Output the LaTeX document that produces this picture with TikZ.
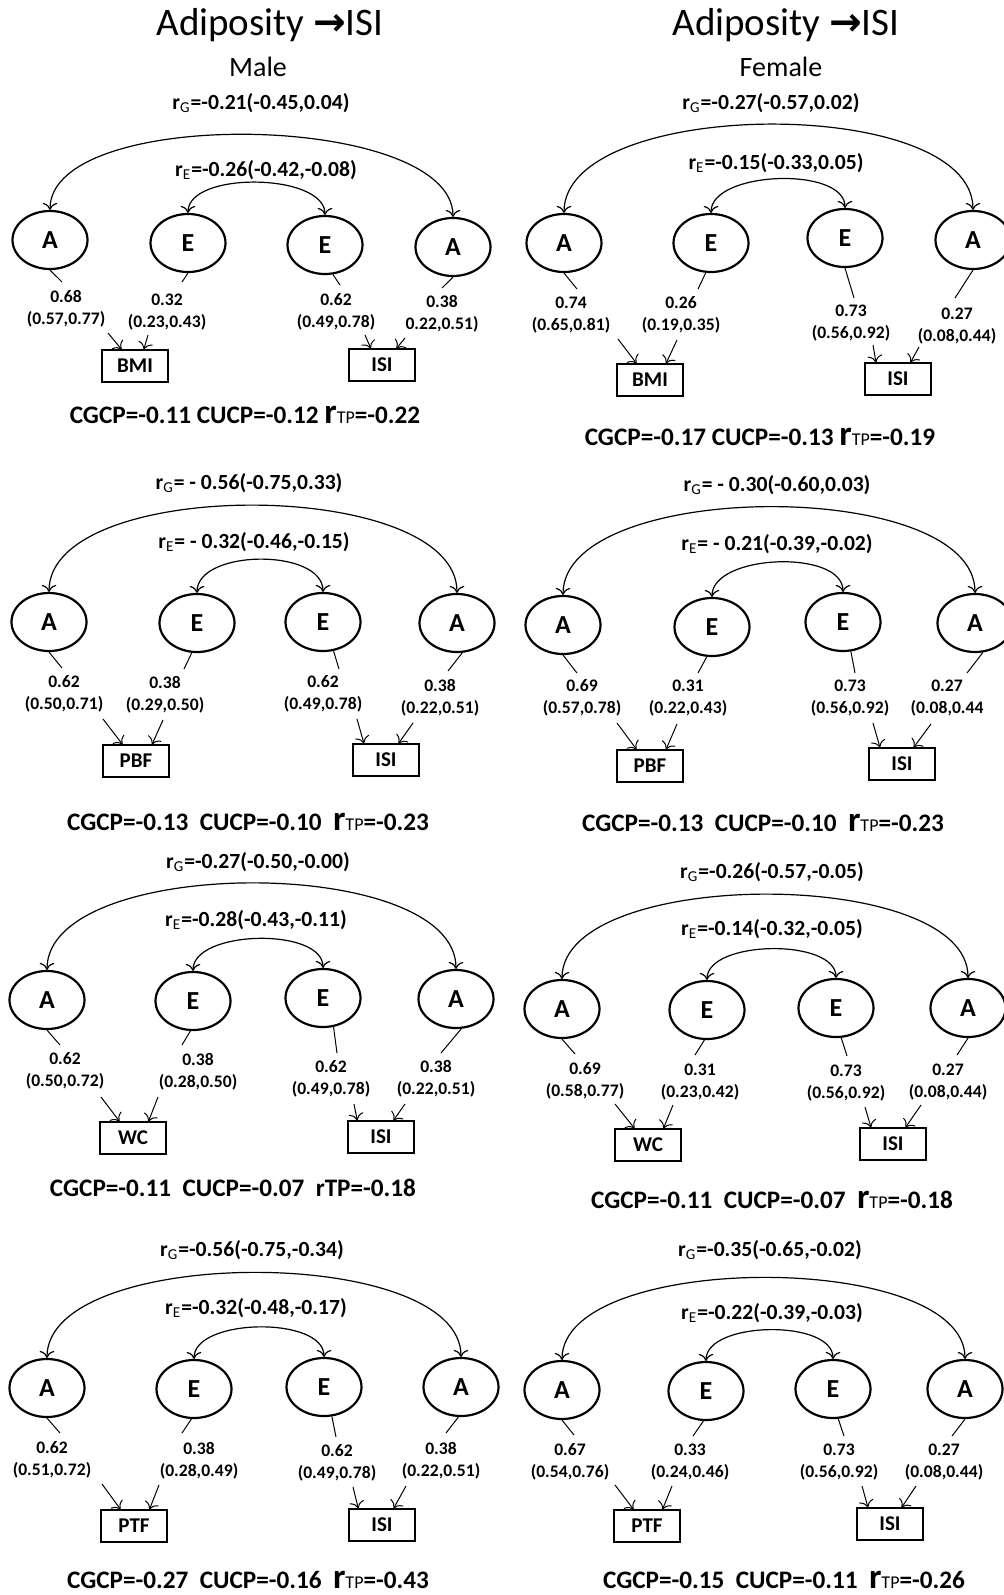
\documentclass[tikz,border=0pt]{standalone}
\usepackage{fontspec}
\setmainfont{Carlito}
\newfontfamily\arrowfont{DejaVu Sans}
\usetikzlibrary{shapes.geometric,arrows.meta}
\newcommand{\rsub}[1]{r\textsubscript{\mdseries #1}}
\newcommand{\rtp}{{\fontsize{17.5}{17.5}\selectfont r}{\fontsize{9}{9}\selectfont\mdseries TP}}
\begin{document}
\begin{tikzpicture}[x=0.5pt,y=-0.5pt,
  lat/.style={draw,ellipse,line width=1.1pt,minimum width=37.5pt,minimum height=29pt,inner sep=0pt,font=\fontsize{13}{13}\selectfont\bfseries},
  obs/.style={draw,line width=0.6pt,minimum width=33pt,minimum height=16pt,inner sep=0pt,font=\fontsize{10.5}{10.5}\selectfont\bfseries},
  cor/.style={inner sep=0pt,font=\fontsize{10.8}{10.8}\selectfont\bfseries},
  load/.style={inner sep=0pt,align=center,font=\fontsize{8.8}{11}\selectfont\bfseries},
  sum/.style={inner sep=0pt,font=\fontsize{12.6}{12.6}\selectfont\bfseries},
  dbl/.style={{To[length=3.5pt]}-{To[length=3.5pt]},line width=0.6pt},
  arr/.style={-{To[length=3.5pt]},line width=0.5pt},
  ld/.style={line width=0.5pt}]
  \useasboundingbox (0,0) rectangle (1004,1595);
  % headings
  \node[font=\fontsize{19.5}{19.5}\selectfont] (tm) at (270,25) {Adiposity {\arrowfont\bfseries →}ISI};
  \node[font=\fontsize{14}{14}\selectfont] (sm) at (258,67) {Male};
  \node[font=\fontsize{19.5}{19.5}\selectfont] (tf) at (786,25) {Adiposity {\arrowfont\bfseries →}ISI};
  \node[font=\fontsize{14}{14}\selectfont] (sf) at (781,67) {Female};

  % male, BMI
  \begin{scope}[name prefix=mb-]
    \node[cor] (rg) at (261,103) {\rsub{G}=-0.21(-0.45,0.04)};
    \node[cor] (re) at (266,170) {\rsub{E}=-0.26(-0.42,-0.08)};
    \node[lat] (a1) at (50,240) {A};
    \node[lat] (e1) at (188,243) {E};
    \node[lat] (e2) at (325,245) {E};
    \node[lat] (a2) at (453,247) {A};
    \draw[dbl] (a1.north) .. controls +(0,-105) and +(0,-105) .. (a2.north);
    \draw[dbl] (e1.north) .. controls +(0,-42) and +(0,-42) .. (e2.north);
    \coordinate (t1) at (62,282); \coordinate (t2) at (182,282);
    \coordinate (t3) at (340,285); \coordinate (t4) at (442,288);
    \draw[ld] (a1.south) -- (t1);
    \draw[ld] (e1.south) -- (t2);
    \draw[ld] (e2.-75) -- (t3);
    \draw[ld] (a2.south) -- (t4);
    \node[load] (l1) at (66,309) {0.68\\(0.57,0.77)};
    \node[load] (l2) at (167,312) {0.32\\(0.23,0.43)};
    \node[load] (l3) at (336,312) {0.62\\(0.49,0.78)};
    \node[load] (l4) at (442,314) {0.38\\0.22,0.51)};
    \node[obs] (bmi) at (135,366) {BMI};
    \node[obs] (isi) at (382,365) {ISI};
    \coordinate (s1) at (108,333); \coordinate (s2) at (148,335);
    \coordinate (s3) at (365,335); \coordinate (s4) at (405,338);
    \draw[arr] (s1) -- (bmi.129);
    \draw[arr] (s2) -- (bmi.62);
    \draw[arr] (s3) -- (isi.124);
    \draw[arr] (s4) -- (isi.49);
    \node[sum] (cp) at (245,415) {CGCP=-0.11 CUCP=-0.12 \rtp=-0.22};
  \end{scope}

  % female, BMI
  \begin{scope}[name prefix=fb-]
    \node[cor] (rg) at (771,103) {\rsub{G}=-0.27(-0.57,0.02)};
    \node[cor] (re) at (776,163) {\rsub{E}=-0.15(-0.33,0.05)};
    \node[lat] (a1) at (564,243) {A};
    \node[lat] (e1) at (711,243) {E};
    \node[lat] (e2) at (845,238) {E};
    \node[lat] (a2) at (973,240) {A};
    \draw[dbl] (a1.north) .. controls +(0,-116) and +(0,-116) .. (a2.north);
    \draw[dbl] (e1.north) .. controls +(0,-42) and +(0,-42) .. (e2.north);
    \coordinate (t1) at (577,289); \coordinate (t2) at (698,289);
    \coordinate (t3) at (854,298); \coordinate (t4) at (955,298);
    \draw[ld] (a1.south) -- (t1);
    \draw[ld] (e1.-100) -- (t2);
    \draw[ld] (e2.south) -- (t3);
    \draw[ld] (a2.south) -- (t4);
    \node[load] (l1) at (571,315) {0.74\\(0.65,0.81)};
    \node[load] (l2) at (681,315) {0.26\\(0.19,0.35)};
    \node[load] (l3) at (851,323) {0.73\\(0.56,0.92)};
    \node[load] (l4) at (957,326) {0.27\\(0.08,0.44)};
    \node[obs] (bmi) at (650,380) {BMI};
    \node[obs] (isi) at (898,379) {ISI};
    \coordinate (s1) at (618,339); \coordinate (s2) at (677,340);
    \coordinate (s3) at (873,345); \coordinate (s4) at (919,347);
    \draw[arr] (s1) -- (bmi.129);
    \draw[arr] (s2) -- (bmi.46);
    \draw[arr] (s3) -- (isi.143);
    \draw[arr] (s4) -- (isi.53);
    \node[sum] (cp) at (760,437) {CGCP=-0.17 CUCP=-0.13 \rtp=-0.19};
  \end{scope}

  % male, PBF
  \begin{scope}[name prefix=mp-]
    \node[cor] (rg) at (249,483) {\rsub{G}= - 0.56(-0.75,0.33)};
    \node[cor] (re) at (254,542) {\rsub{E}= - 0.32(-0.46,-0.15)};
    \node[lat] (a1) at (49,622) {A};
    \node[lat] (e1) at (197,623) {E};
    \node[lat] (e2) at (323,622) {E};
    \node[lat] (a2) at (457,623) {A};
    \draw[dbl] (a1.north) .. controls +(0,-116) and +(0,-116) .. (a2.north);
    \draw[dbl] (e1.north) .. controls +(0,-44) and +(0,-44) .. (e2.north);
    \coordinate (t1) at (62,668); \coordinate (t2) at (184,669);
    \coordinate (t3) at (339,669); \coordinate (t4) at (448,671);
    \draw[ld] (a1.south) -- (t1);
    \draw[ld] (e1.-100) -- (t2);
    \draw[ld] (e2.-70) -- (t3);
    \draw[ld] (a2.-80) -- (t4);
    \node[load] (l1) at (64,694) {0.62\\(0.50,0.71)};
    \node[load] (l2) at (165,695) {0.38\\(0.29,0.50)};
    \node[load] (l3) at (323,694) {0.62\\(0.49,0.78)};
    \node[load] (l4) at (440,698) {0.38\\(0.22,0.51)};
    \node[obs] (pbf) at (136,761) {PBF};
    \node[obs] (isi) at (386,760) {ISI};
    \coordinate (s1) at (103,719); \coordinate (s2) at (163,720);
    \coordinate (s3) at (357,719); \coordinate (s4) at (413,723);
    \draw[arr] (s1) -- (pbf.129);
    \draw[arr] (s2) -- (pbf.46);
    \draw[arr] (s3) -- (isi.143);
    \draw[arr] (s4) -- (isi.53);
    \node[sum] (cp) at (248,822) {CGCP=-0.13\ \ CUCP=-0.10\ \ \rtp=-0.23};
  \end{scope}

  % female, PBF
  \begin{scope}[name prefix=fp-]
    \node[cor] (rg) at (777,485) {\rsub{G}= - 0.30(-0.60,0.03)};
    \node[cor] (re) at (777,544) {\rsub{E}= - 0.21(-0.39,-0.02)};
    \node[lat] (a1) at (563,625) {A};
    \node[lat] (e1) at (712,627) {E};
    \node[lat] (e2) at (843,622) {E};
    \node[lat] (a2) at (975,623) {A};
    \draw[dbl] (a1.north) .. controls +(0,-116) and +(0,-116) .. (a2.north);
    \draw[dbl] (e1.north) .. controls +(0,-43) and +(0,-43) .. (e2.north);
    \coordinate (t1) at (577,673); \coordinate (t2) at (698,673);
    \coordinate (t3) at (855,673); \coordinate (t4) at (967,673);
    \draw[ld] (a1.south) -- (t1);
    \draw[ld] (e1.-100) -- (t2);
    \draw[ld] (e2.-75) -- (t3);
    \draw[ld] (a2.-75) -- (t4);
    \node[load] (l1) at (582,698) {0.69\\(0.57,0.78)};
    \node[load] (l2) at (688,698) {0.31\\(0.22,0.43)};
    \node[load] (l3) at (850,698) {0.73\\(0.56,0.92)};
    \node[load] (l4) at (947,698) {0.27\\(0.08,0.44};
    \node[obs] (pbf) at (650,766) {PBF};
    \node[obs] (isi) at (902,764) {ISI};
    \coordinate (s1) at (617,723); \coordinate (s2) at (677,724);
    \coordinate (s3) at (873,723); \coordinate (s4) at (931,724);
    \draw[arr] (s1) -- (pbf.129);
    \draw[arr] (s2) -- (pbf.46);
    \draw[arr] (s3) -- (isi.143);
    \draw[arr] (s4) -- (isi.55);
    \node[sum] (cp) at (763,823) {CGCP=-0.13\ \ CUCP=-0.10\ \ \rtp=-0.23};
  \end{scope}

  % male, WC
  \begin{scope}[name prefix=mw-]
    \node[cor] (rg) at (258,862) {\rsub{G}=-0.27(-0.50,-0.00)};
    \node[cor] (re) at (256,920) {\rsub{E}=-0.28(-0.43,-0.11)};
    \node[lat] (a1) at (47,1000) {A};
    \node[lat] (e1) at (193,1001) {E};
    \node[lat] (e2) at (323,998) {E};
    \node[lat] (a2) at (456,999) {A};
    \draw[dbl] (a1.north) .. controls +(0,-115) and +(0,-115) .. (a2.north);
    \draw[dbl] (e1.north) .. controls +(0,-41) and +(0,-41) .. (e2.north);
    \coordinate (t1) at (60,1045); \coordinate (t2) at (182,1045);
    \coordinate (t3) at (337,1053); \coordinate (t4) at (441,1053);
    \draw[ld] (a1.south) -- (t1);
    \draw[ld] (e1.-95) -- (t2);
    \draw[ld] (e2.-70) -- (t3);
    \draw[ld] (a2.-80) -- (t4);
    \node[load] (l1) at (65,1071) {0.62\\(0.50,0.72)};
    \node[load] (l2) at (198,1072) {0.38\\(0.28,0.50)};
    \node[load] (l3) at (331,1079) {0.62\\(0.49,0.78)};
    \node[load] (l4) at (436,1079) {0.38\\(0.22,0.51)};
    \node[obs] (wc) at (133,1138) {WC};
    \node[obs] (isi) at (381,1137) {ISI};
    \coordinate (s1) at (101,1097); \coordinate (s2) at (158,1097);
    \coordinate (s3) at (354,1104); \coordinate (s4) at (405,1104);
    \draw[arr] (s1) -- (wc.129);
    \draw[arr] (s2) -- (wc.47);
    \draw[arr] (s3) -- (isi.145);
    \draw[arr] (s4) -- (isi.53);
    \node[sum] (cp) at (233,1188) {CGCP=-0.11\ \ CUCP=-0.07\ \ rTP=-0.18};
  \end{scope}

  % female, WC
  \begin{scope}[name prefix=fw-]
    \node[cor] (rg) at (772,872) {\rsub{G}=-0.26(-0.57,-0.05)};
    \node[cor] (re) at (772,929) {\rsub{E}=-0.14(-0.32,-0.05)};
    \node[lat] (a1) at (562,1009) {A};
    \node[lat] (e1) at (707,1010) {E};
    \node[lat] (e2) at (836,1008) {E};
    \node[lat] (a2) at (968,1008) {A};
    \draw[dbl] (a1.north) .. controls +(0,-112) and +(0,-112) .. (a2.north);
    \draw[dbl] (e1.north) .. controls +(0,-40) and +(0,-40) .. (e2.north);
    \coordinate (t1) at (575,1054); \coordinate (t2) at (695,1055);
    \coordinate (t3) at (847,1056); \coordinate (t4) at (957,1055);
    \draw[ld] (a1.south) -- (t1);
    \draw[ld] (e1.-95) -- (t2);
    \draw[ld] (e2.-80) -- (t3);
    \draw[ld] (a2.south) -- (t4);
    \node[load] (l1) at (585,1081) {0.69\\(0.58,0.77)};
    \node[load] (l2) at (700,1082) {0.31\\(0.23,0.42)};
    \node[load] (l3) at (846,1083) {0.73\\(0.56,0.92)};
    \node[load] (l4) at (948,1082) {0.27\\(0.08,0.44)};
    \node[obs] (wc) at (648,1145) {WC};
    \node[obs] (isi) at (893,1144) {ISI};
    \coordinate (s1) at (615,1104); \coordinate (s2) at (673,1105);
    \coordinate (s3) at (865,1107); \coordinate (s4) at (921,1105);
    \draw[arr] (s1) -- (wc.129);
    \draw[arr] (s2) -- (wc.47);
    \draw[arr] (s3) -- (isi.143);
    \draw[arr] (s4) -- (isi.53);
    \node[sum] (cp) at (772,1200) {CGCP=-0.11\ \ CUCP=-0.07\ \ \rtp=-0.18};
  \end{scope}

  % male, PTF
  \begin{scope}[name prefix=mt-]
    \node[cor] (rg) at (252,1250) {\rsub{G}=-0.56(-0.75,-0.34)};
    \node[cor] (re) at (256,1308) {\rsub{E}=-0.32(-0.48,-0.17)};
    \node[lat] (a1) at (47,1388) {A};
    \node[lat] (e1) at (194,1389) {E};
    \node[lat] (e2) at (324,1387) {E};
    \node[lat] (a2) at (461,1387) {A};
    \draw[dbl] (a1.north) .. controls +(0,-113) and +(0,-113) .. (a2.north);
    \draw[dbl] (e1.north) .. controls +(0,-41) and +(0,-41) .. (e2.north);
    \coordinate (t1) at (60,1433); \coordinate (t2) at (182,1433);
    \coordinate (t3) at (336,1437); \coordinate (t4) at (446,1433);
    \draw[ld] (a1.south) -- (t1);
    \draw[ld] (e1.-95) -- (t2);
    \draw[ld] (e2.-75) -- (t3);
    \draw[ld] (a2.-95) -- (t4);
    \node[load] (l1) at (52,1460) {0.62\\(0.51,0.72)};
    \node[load] (l2) at (199,1461) {0.38\\(0.28,0.49)};
    \node[load] (l3) at (337,1463) {0.62\\(0.49,0.78)};
    \node[load] (l4) at (441,1461) {0.38\\(0.22,0.51)};
    \node[obs] (ptf) at (134,1526) {PTF};
    \node[obs] (isi) at (382,1525) {ISI};
    \coordinate (s1) at (102,1484); \coordinate (s2) at (159,1485);
    \coordinate (s3) at (353,1487); \coordinate (s4) at (406,1486);
    \draw[arr] (s1) -- (ptf.129);
    \draw[arr] (s2) -- (ptf.47);
    \draw[arr] (s3) -- (isi.145);
    \draw[arr] (s4) -- (isi.55);
    \node[sum] (cp) at (248,1580) {CGCP=-0.27\ \ CUCP=-0.16\ \ \rtp=-0.43};
  \end{scope}

  % female, PTF
  \begin{scope}[name prefix=ft-]
    \node[cor] (rg) at (770,1250) {\rsub{G}=-0.35(-0.65,-0.02)};
    \node[cor] (re) at (772,1313) {\rsub{E}=-0.22(-0.39,-0.03)};
    \node[lat] (a1) at (562,1390) {A};
    \node[lat] (e1) at (706,1391) {E};
    \node[lat] (e2) at (833,1389) {E};
    \node[lat] (a2) at (965,1389) {A};
    \draw[dbl] (a1.north) .. controls +(0,-109) and +(0,-109) .. (a2.north);
    \draw[dbl] (e1.north) .. controls +(0,-40) and +(0,-40) .. (e2.north);
    \coordinate (t1) at (574,1435); \coordinate (t2) at (693,1436);
    \coordinate (t3) at (844,1436); \coordinate (t4) at (952,1436);
    \draw[ld] (a1.south) -- (t1);
    \draw[ld] (e1.-95) -- (t2);
    \draw[ld] (e2.-80) -- (t3);
    \draw[ld] (a2.south) -- (t4);
    \node[load] (l1) at (570,1462) {0.67\\(0.54,0.76)};
    \node[load] (l2) at (690,1462) {0.33\\(0.24,0.46)};
    \node[load] (l3) at (839,1462) {0.73\\(0.56,0.92)};
    \node[load] (l4) at (944,1462) {0.27\\(0.08,0.44)};
    \node[obs] (ptf) at (647,1526) {PTF};
    \node[obs] (isi) at (890,1524) {ISI};
    \coordinate (s1) at (615,1485); \coordinate (s2) at (672,1486);
    \coordinate (s3) at (862,1486); \coordinate (s4) at (916,1486);
    \draw[arr] (s1) -- (ptf.129);
    \draw[arr] (s2) -- (ptf.47);
    \draw[arr] (s3) -- (isi.143);
    \draw[arr] (s4) -- (isi.55);
    \node[sum] (cp) at (784,1580) {CGCP=-0.15\ \ CUCP=-0.11\ \ \rtp=-0.26};
  \end{scope}
\end{tikzpicture}
\end{document}
